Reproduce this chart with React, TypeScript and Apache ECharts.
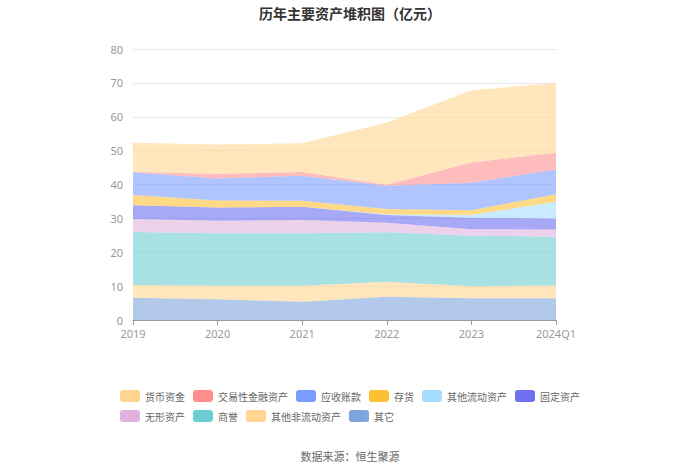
import React, { useEffect, useRef } from "react";
import * as echarts from "echarts";

const categories = ["2019", "2020", "2021", "2022", "2023", "2024Q1"];

// stacked from bottom to top
const qita = [6.6, 6.1, 5.4, 6.9, 6.4, 6.4];
const qitaFeiLiudong = [3.7, 4.0, 4.7, 4.4, 3.6, 3.8];
const shangyu = [15.7, 15.5, 15.5, 14.6, 14.9, 14.4];
const wuxing = [3.8, 3.7, 3.9, 2.8, 1.9, 2.1];
const guding = [4.1, 3.9, 3.9, 2.3, 3.4, 3.3];
const qitaLiudong = [0, 0, 0, 0.2, 0.8, 4.9];
const cunhuo = [3.0, 2.1, 1.8, 1.6, 1.4, 2.2];
const yingshou = [6.7, 6.5, 7.4, 6.8, 8.1, 7.3];
const jiaoyixing = [0.2, 1.3, 1.1, 0.3, 6.0, 5.0];
const huobi = [8.5, 8.7, 8.5, 18.4, 21.3, 20.6];

const legendOrder = [
  "货币资金",
  "交易性金融资产",
  "应收账款",
  "存货",
  "其他流动资产",
  "固定资产",
  "无形资产",
  "商誉",
  "其他非流动资产",
  "其它",
];

const yTicks = { min: 0, max: 80, interval: 10 };

export default function App() {
  const ref = useRef<HTMLDivElement>(null);
  useEffect(() => {
    document.body.style.margin = "0";
    if (!ref.current) return;
    const chart = echarts.init(ref.current, undefined, { renderer: "svg" });
    const mk = (name: string, data: number[], color: string) => ({
      name,
      type: "line",
      stack: "total",
      data,
      symbol: "none",
      showSymbol: false,
      smooth: false,
      itemStyle: { color },
      lineStyle: { width: 0, opacity: 0 },
      areaStyle: { color, opacity: 0.6 },
    });
    chart.setOption({
      animation: false,
      title: {
        text: "历年主要资产堆积图（亿元）",
        left: "center",
        top: 1,
        textStyle: { fontSize: 14, fontWeight: "bold", color: "#333", fontFamily: "Noto Sans CJK SC" },
      },
      graphic: [
        {
          type: "text",
          left: "center",
          top: 450,
          style: {
            text: "数据来源：恒生聚源",
            fontSize: 11,
            fill: "#666",
            fontFamily: "Noto Sans CJK SC",
          },
        },
      ],
      legend: {
        data: legendOrder,
        left: "center",
        top: 385,
        width: 470,
        itemWidth: 20,
        itemHeight: 12,
        itemGap: 8,
        icon: "roundRect",
        textStyle: { fontSize: 10, color: "#666", fontFamily: "Noto Sans CJK SC" },
      },
      grid: { left: 133, right: 144, top: 49, bottom: 154 },
      xAxis: {
        type: "category",
        data: categories,
        boundaryGap: false,
        axisLine: { lineStyle: { color: "#999" } },
        axisTick: { show: true, alignWithLabel: true, lineStyle: { color: "#999" } },
        axisLabel: { color: "#999", fontSize: 11, margin: 8, fontFamily: "Noto Sans" },
      },
      yAxis: {
        type: "value",
        min: yTicks.min,
        max: yTicks.max,
        interval: yTicks.interval,
        axisLine: { show: false },
        axisTick: { show: false },
        axisLabel: { color: "#999", fontSize: 11, margin: 10, fontFamily: "Noto Sans" },
        splitLine: { lineStyle: { color: "#E8E8E8" } },
      },
      series: [
        mk("其它", qita, "#7EA5DC"),
        mk("其他非流动资产", qitaFeiLiudong, "#FFD591"),
        mk("商誉", shangyu, "#6DCDD0"),
        mk("无形资产", wuxing, "#E0B2DC"),
        mk("固定资产", guding, "#6E70F0"),
        mk("其他流动资产", qitaLiudong, "#A5DEFF"),
        mk("存货", cunhuo, "#FFBF35"),
        mk("应收账款", yingshou, "#7B9CFF"),
        mk("交易性金融资产", jiaoyixing, "#FF8F8F"),
        mk("货币资金", huobi, "#FFD591"),
      ],
    });
    return () => chart.dispose();
  }, []);
  return <div ref={ref} style={{ width: 700, height: 474 }} />;
}
